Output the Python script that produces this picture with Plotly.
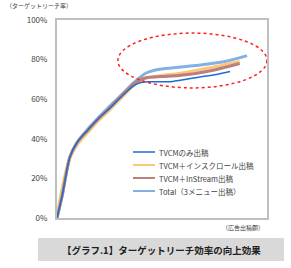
import plotly.graph_objects as go

# ---- data (x: ad spend index 0-100, y: target reach %) ----
series_names = ["TVCMのみ出稿", "TVCM＋インスクロール出稿", "TVCM＋InStream出稿", "Total（3メニュー出稿）"]

x_tvcm = [0, 2.4, 6.2, 9.5, 14.3, 20, 25.2, 31.4, 36.2, 39.5, 43, 48, 55, 66.7, 76, 82.4]
y_tvcm = [0, 11, 31, 38, 44, 50.5, 55.5, 62, 66.5, 68.3, 68.8, 68.8, 69, 71, 72.5, 74]

x_insc = [0, 1.5, 6, 10, 15, 20, 25, 31, 36, 40, 44, 50, 58, 66, 76, 87]
y_insc = [0, 10, 30, 37.5, 43.5, 49.5, 54.5, 61, 66.5, 69.5, 71, 72, 73, 74.5, 76.5, 79]

x_inst = [0, 2.4, 6.2, 9.5, 14.3, 20, 25.2, 31.4, 36.2, 40, 43, 50, 58, 66, 76, 87]
y_inst = [0, 11, 31, 38, 44, 50.5, 55.8, 62.5, 67.5, 70, 71, 71.5, 72, 73, 75, 78]

x_total = [0, 2.4, 6.2, 9.5, 14.3, 20, 25.2, 31.4, 36.2, 39.5, 42, 46, 52, 66, 80, 90.5]
y_total = [0, 11, 31, 38, 44.5, 51, 56.5, 63, 68, 71, 73, 74.5, 75.5, 77, 79, 82]

y_ticks = [0, 20, 40, 60, 80, 100]

colors = ["#1A6FCF", "#FCC77C", "#BC7F7D", "#84B0E6"]
widths = [1.5, 3, 3, 3]

xs = [x_tvcm, x_insc, x_inst, x_total]
ys = [y_tvcm, y_insc, y_inst, y_total]

fig = go.Figure()
order = [3, 1, 2, 0]
for i in order:
    fig.add_trace(go.Scatter(
        x=xs[i], y=ys[i], mode="lines", name=series_names[i],
        line=dict(color=colors[i], width=widths[i], shape="spline", smoothing=0.8),
        showlegend=False,
    ))

FONT = "Noto Sans CJK JP"
L, T, W, H = 57, 20, 210, 198


def px(xp):
    return (xp - L) / W


def py(yp):
    return (T + H - yp) / H


fig.update_layout(
    width=291, height=268,
    margin=dict(l=57, r=24, t=20, b=50),
    paper_bgcolor="white", plot_bgcolor="white",
    font=dict(family=FONT, size=8, color="#404040"),
    showlegend=False,
    xaxis=dict(range=[0, 100], showgrid=False, zeroline=False, showticklabels=False,
               ticks="", showline=True, linecolor="#BFBFBF", linewidth=2, mirror=True,
               fixedrange=True),
    yaxis=dict(range=[0, 100], tickvals=y_ticks, ticktext=[f"{v}%" for v in y_ticks],
               showgrid=False, zeroline=False, ticks="", showline=True,
               linecolor="#BFBFBF", linewidth=2, mirror=True, ticklabelstandoff=6,
               tickfont=dict(size=8, color="#404040"), fixedrange=True),
)

# red dotted ellipse highlighting the high-spend region
fig.add_shape(type="circle", xref="x", yref="y", x0=29, x1=100, y0=65.7, y1=93.4,
              line=dict(color="#FF2020", width=1.5, dash="dot"), layer="above")

# legend (drawn manually for compact spacing)
legend_rows = [152, 165, 178, 191]
for i, yr in enumerate(legend_rows):
    fig.add_shape(type="line", xref="paper", yref="paper",
                  x0=px(133), x1=px(155), y0=py(yr), y1=py(yr),
                  line=dict(color=colors[i], width=1.5 if i == 0 else 2))
    fig.add_annotation(text=series_names[i], xref="paper", yref="paper",
                       x=px(157), y=py(yr), xanchor="left", yanchor="middle",
                       showarrow=False, font=dict(size=7.5, color="#404040"))

# axis titles
fig.add_annotation(text="（ターゲットリーチ率）", xref="paper", yref="paper",
                   x=px(4), y=py(6), xanchor="left", yanchor="middle",
                   showarrow=False, font=dict(size=6, color="#404040"))
fig.add_annotation(text="（広告出稿額）", xref="paper", yref="paper",
                   x=px(266), y=py(227), xanchor="right", yanchor="middle",
                   showarrow=False, font=dict(size=6, color="#404040"))

# caption banner
fig.add_shape(type="rect", xref="paper", yref="paper",
              x0=px(38), x1=px(284), y0=py(261), y1=py(238),
              fillcolor="#D9D9D9", line=dict(width=0), layer="below")
fig.add_annotation(text="<b>【グラフ.1】ターゲットリーチ効率の向上効果</b>", xref="paper", yref="paper",
                   x=px(161), y=py(250), xanchor="center", yanchor="middle",
                   showarrow=False, font=dict(size=9.5, color="#202020"))

fig.write_html("out.html")
